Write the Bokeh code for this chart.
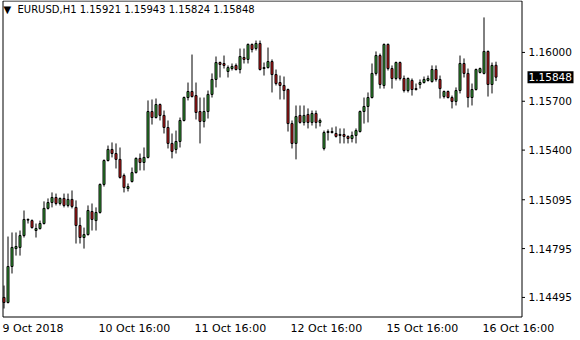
from bokeh.plotting import figure
from bokeh.models import Range1d, ColumnDataSource, Label
from bokeh.core.properties import value
from bokeh.embed import file_html
from bokeh.resources import INLINE

symbol = "EURUSD,H1"

opens = [1.14495, 1.14464, 1.14685, 1.14795, 1.14802, 1.14875, 1.14970, 1.14967, 1.14906, 1.14918,
         1.14949, 1.15042, 1.15078, 1.15109, 1.15072, 1.15103, 1.15060, 1.15097, 1.15048, 1.14937,
         1.14863, 1.14881, 1.15023, 1.14967, 1.15017, 1.15189, 1.15336, 1.15404, 1.15379, 1.15343,
         1.15244, 1.15164, 1.15207, 1.15262, 1.15349, 1.15324, 1.15355, 1.15637, 1.15600, 1.15680,
         1.15613, 1.15539, 1.15441, 1.15404, 1.15453, 1.15582, 1.15723, 1.15760, 1.15735, 1.15637,
         1.15576, 1.15637, 1.15742, 1.15834, 1.15938, 1.15932, 1.15883, 1.15901, 1.15920, 1.15895,
         1.15969, 1.15957, 1.16049, 1.16024, 1.16055, 1.15901, 1.15907, 1.15944, 1.15864, 1.15815,
         1.15797, 1.15772, 1.15563, 1.15441, 1.15613, 1.15570, 1.15619, 1.15570, 1.15625, 1.15570,
         1.15410, 1.15508, 1.15514, 1.15502, 1.15490, 1.15496, 1.15484, 1.15471, 1.15490, 1.15514,
         1.15637, 1.15668, 1.15723, 1.15871, 1.15981, 1.15797, 1.16049, 1.15901, 1.15840, 1.15938,
         1.15840, 1.15766, 1.15828, 1.15778, 1.15803, 1.15815, 1.15828, 1.15821, 1.15895, 1.15834,
         1.15729, 1.15760, 1.15723, 1.15699, 1.15766, 1.15932, 1.15871, 1.15723, 1.15772, 1.15877,
         1.15871, 1.16006, 1.15803, 1.15921]
highs = [1.14568, 1.14869, 1.14894, 1.14894, 1.14906, 1.15029, 1.14980, 1.14974, 1.14949, 1.14967,
         1.15085, 1.15103, 1.15140, 1.15133, 1.15109, 1.15133, 1.15133, 1.15152, 1.15091, 1.14986,
         1.14924, 1.15060, 1.15072, 1.15048, 1.15195, 1.15343, 1.15428, 1.15447, 1.15441, 1.15416,
         1.15256, 1.15195, 1.15293, 1.15355, 1.15379, 1.15416, 1.15705, 1.15711, 1.15717, 1.15686,
         1.15643, 1.15582, 1.15502, 1.15520, 1.15600, 1.15729, 1.15815, 1.15987, 1.15815, 1.15723,
         1.15723, 1.15766, 1.15871, 1.15975, 1.15944, 1.15981, 1.15920, 1.15932, 1.15932, 1.16024,
         1.16024, 1.16055, 1.16055, 1.16073, 1.16073, 1.15938, 1.16030, 1.15957, 1.15895, 1.15858,
         1.15852, 1.15778, 1.15582, 1.15674, 1.15674, 1.15674, 1.15656, 1.15643, 1.15643, 1.15594,
         1.15520, 1.15527, 1.15539, 1.15545, 1.15533, 1.15533, 1.15490, 1.15514, 1.15533, 1.15643,
         1.15723, 1.15754, 1.15932, 1.16006, 1.15993, 1.16055, 1.16055, 1.15920, 1.15944, 1.15944,
         1.15858, 1.15846, 1.15840, 1.15809, 1.15834, 1.15852, 1.15858, 1.15920, 1.15920, 1.15858,
         1.15766, 1.15766, 1.15735, 1.15785, 1.15981, 1.15963, 1.15901, 1.15809, 1.15901, 1.15907,
         1.16215, 1.16012, 1.15938, 1.15943]
lows = [1.14427, 1.14458, 1.14642, 1.14752, 1.14752, 1.14863, 1.14949, 1.14918, 1.14863, 1.14912,
        1.14943, 1.15035, 1.15048, 1.15060, 1.15060, 1.15048, 1.15048, 1.15042, 1.14826, 1.14826,
        1.14795, 1.14875, 1.14906, 1.14906, 1.15010, 1.15176, 1.15330, 1.15355, 1.15287, 1.15225,
        1.15140, 1.15146, 1.15201, 1.15256, 1.15275, 1.15275, 1.15349, 1.15557, 1.15594, 1.15582,
        1.15502, 1.15410, 1.15349, 1.15379, 1.15416, 1.15576, 1.15705, 1.15723, 1.15588, 1.15441,
        1.15539, 1.15594, 1.15723, 1.15785, 1.15846, 1.15901, 1.15846, 1.15889, 1.15889, 1.15871,
        1.15932, 1.15932, 1.16000, 1.16012, 1.15889, 1.15858, 1.15901, 1.15754, 1.15797, 1.15711,
        1.15711, 1.15514, 1.15410, 1.15343, 1.15563, 1.15551, 1.15533, 1.15551, 1.15533, 1.15545,
        1.15398, 1.15459, 1.15502, 1.15477, 1.15441, 1.15441, 1.15441, 1.15447, 1.15441, 1.15508,
        1.15563, 1.15570, 1.15717, 1.15858, 1.15778, 1.15778, 1.15889, 1.15778, 1.15828, 1.15828,
        1.15754, 1.15754, 1.15735, 1.15766, 1.15778, 1.15809, 1.15821, 1.15815, 1.15821, 1.15717,
        1.15717, 1.15717, 1.15656, 1.15674, 1.15748, 1.15846, 1.15662, 1.15674, 1.15766, 1.15871,
        1.15865, 1.15729, 1.15748, 1.15824]
closes = [1.14464, 1.14685, 1.14802, 1.14808, 1.14875, 1.14974, 1.14974, 1.14924, 1.14918, 1.14949,
          1.15042, 1.15078, 1.15109, 1.15072, 1.15103, 1.15060, 1.15097, 1.15054, 1.14937, 1.14863,
          1.14881, 1.15029, 1.14974, 1.15017, 1.15189, 1.15336, 1.15404, 1.15379, 1.15343, 1.15232,
          1.15170, 1.15176, 1.15262, 1.15349, 1.15324, 1.15355, 1.15637, 1.15600, 1.15680, 1.15613,
          1.15539, 1.15441, 1.15392, 1.15453, 1.15582, 1.15723, 1.15760, 1.15729, 1.15631, 1.15576,
          1.15637, 1.15742, 1.15834, 1.15938, 1.15926, 1.15920, 1.15907, 1.15914, 1.15895, 1.15975,
          1.15957, 1.16049, 1.16018, 1.16055, 1.15895, 1.15907, 1.15944, 1.15864, 1.15809, 1.15797,
          1.15766, 1.15563, 1.15441, 1.15606, 1.15570, 1.15613, 1.15570, 1.15625, 1.15570, 1.15582,
          1.15508, 1.15514, 1.15508, 1.15484, 1.15496, 1.15484, 1.15471, 1.15490, 1.15520, 1.15637,
          1.15668, 1.15723, 1.15871, 1.15981, 1.15803, 1.16049, 1.15901, 1.15840, 1.15938, 1.15840,
          1.15766, 1.15840, 1.15772, 1.15772, 1.15815, 1.15834, 1.15840, 1.15895, 1.15834, 1.15778,
          1.15760, 1.15723, 1.15699, 1.15766, 1.15932, 1.15871, 1.15723, 1.15772, 1.15895, 1.15901,
          1.16006, 1.15803, 1.15920, 1.15848]

time_labels = ["9 Oct 2018", "10 Oct 16:00", "11 Oct 16:00", "12 Oct 16:00", "15 Oct 16:00", "16 Oct 16:00"]
time_label_bars = [0, 24, 48, 72, 96, 120]
price_ticks = [1.16000, 1.15700, 1.15400, 1.15095, 1.14795, 1.14495]

BULL = "#3cb43c"
BEAR = "#e01e1e"
FONT = "DejaVu Sans"

W, H = 580, 340
PX_PER_BAR = 4.0          # horizontal pixels per hourly bar
PRICE_PER_PX = 0.00006143  # price units per vertical pixel
TOP_PRICE = 1.16319        # price at the very top of the canvas
BAR0_PX = 3.5              # pixel column of the first bar


def sx(px):
    """canvas pixel -> bar-index coordinate"""
    return (px - BAR0_PX) / PX_PER_BAR


def sy(py):
    """canvas pixel (from top) -> price coordinate"""
    return TOP_PRICE - py * PRICE_PER_PX


n = len(opens)
src = ColumnDataSource(dict(
    x=list(range(n)),
    o=opens, h=highs, l=lows, c=closes,
    top=[max(a, b) for a, b in zip(opens, closes)],
    bot=[min(a, b) for a, b in zip(opens, closes)],
    color=[BULL if c >= o else BEAR for o, c in zip(opens, closes)],
))

p = figure(width=W, height=H, output_backend="svg", toolbar_location=None,
           x_range=Range1d(sx(0), sx(W)), y_range=Range1d(sy(H), sy(0)),
           min_border_left=0, min_border_right=0, min_border_top=0, min_border_bottom=0,
           x_axis_location=None, y_axis_location=None)
p.background_fill_color = "white"
p.border_fill_color = "white"
p.outline_line_color = None
p.xgrid.visible = False
p.ygrid.visible = False

# chart frame (MT4 style box, price scale on the right, time scale below)
FR_L, FR_R, FR_T, FR_B = 2.5, 521.5, 0.5, 316.5
p.segment(x0=[sx(FR_L), sx(FR_R), sx(FR_L), sx(FR_L)],
          y0=[sy(FR_T), sy(FR_T), sy(FR_T), sy(FR_B)],
          x1=[sx(FR_L), sx(FR_R), sx(FR_R), sx(FR_R)],
          y1=[sy(FR_B), sy(FR_B), sy(FR_T), sy(FR_B)],
          line_color="black", line_width=1)

# candles
p.segment(x0="x", y0="l", x1="x", y1="h", source=src, line_color="black", line_width=1)
p.vbar(x="x", top="top", bottom="bot", width=0.5, source=src,
       fill_color="color", line_color="black", line_width=1)

# price scale
p.segment(x0=[sx(FR_R)] * len(price_ticks), x1=[sx(FR_R + 3)] * len(price_ticks),
          y0=price_ticks, y1=price_ticks, line_color="black", line_width=1)
p.text(x=[sx(528)] * len(price_ticks), y=price_ticks, text=[f"{t:.5f}" for t in price_ticks],
       text_font=value(FONT), text_font_size="10.5px", text_color="black",
       text_align="left", text_baseline="middle")

# current price tag
last = n - 1
p.rect(x=[sx(550)], y=[closes[last]], width=46, height=12, width_units="screen",
       height_units="screen", fill_color="black", line_color=None)
p.text(x=[sx(528)], y=[closes[last]], text=[f"{closes[last]:.5f}"],
       text_font=value(FONT), text_font_size="10.5px", text_color="white",
       text_align="left", text_baseline="middle")

# time scale
p.text(x=[b - 0.375 for b in time_label_bars], y=[sy(328)] * len(time_label_bars), text=time_labels,
       text_font=value(FONT), text_font_size="11px", text_color="black",
       text_align="left", text_baseline="middle")

# header
header = f"{symbol}  {opens[last]:.5f} {highs[last]:.5f} {lows[last]:.5f} {closes[last]:.5f}"
p.text(x=[sx(3)], y=[sy(9)], text=["\u25bc"], text_font=value(FONT), text_font_size="10px",
       text_color="black", text_align="left", text_baseline="middle")
p.text(x=[sx(17)], y=[sy(9)], text=[header], text_font=value(FONT), text_font_size="10px",
       text_color="black", text_align="left", text_baseline="middle")

open("out.html", "w").write(file_html(p, INLINE))
